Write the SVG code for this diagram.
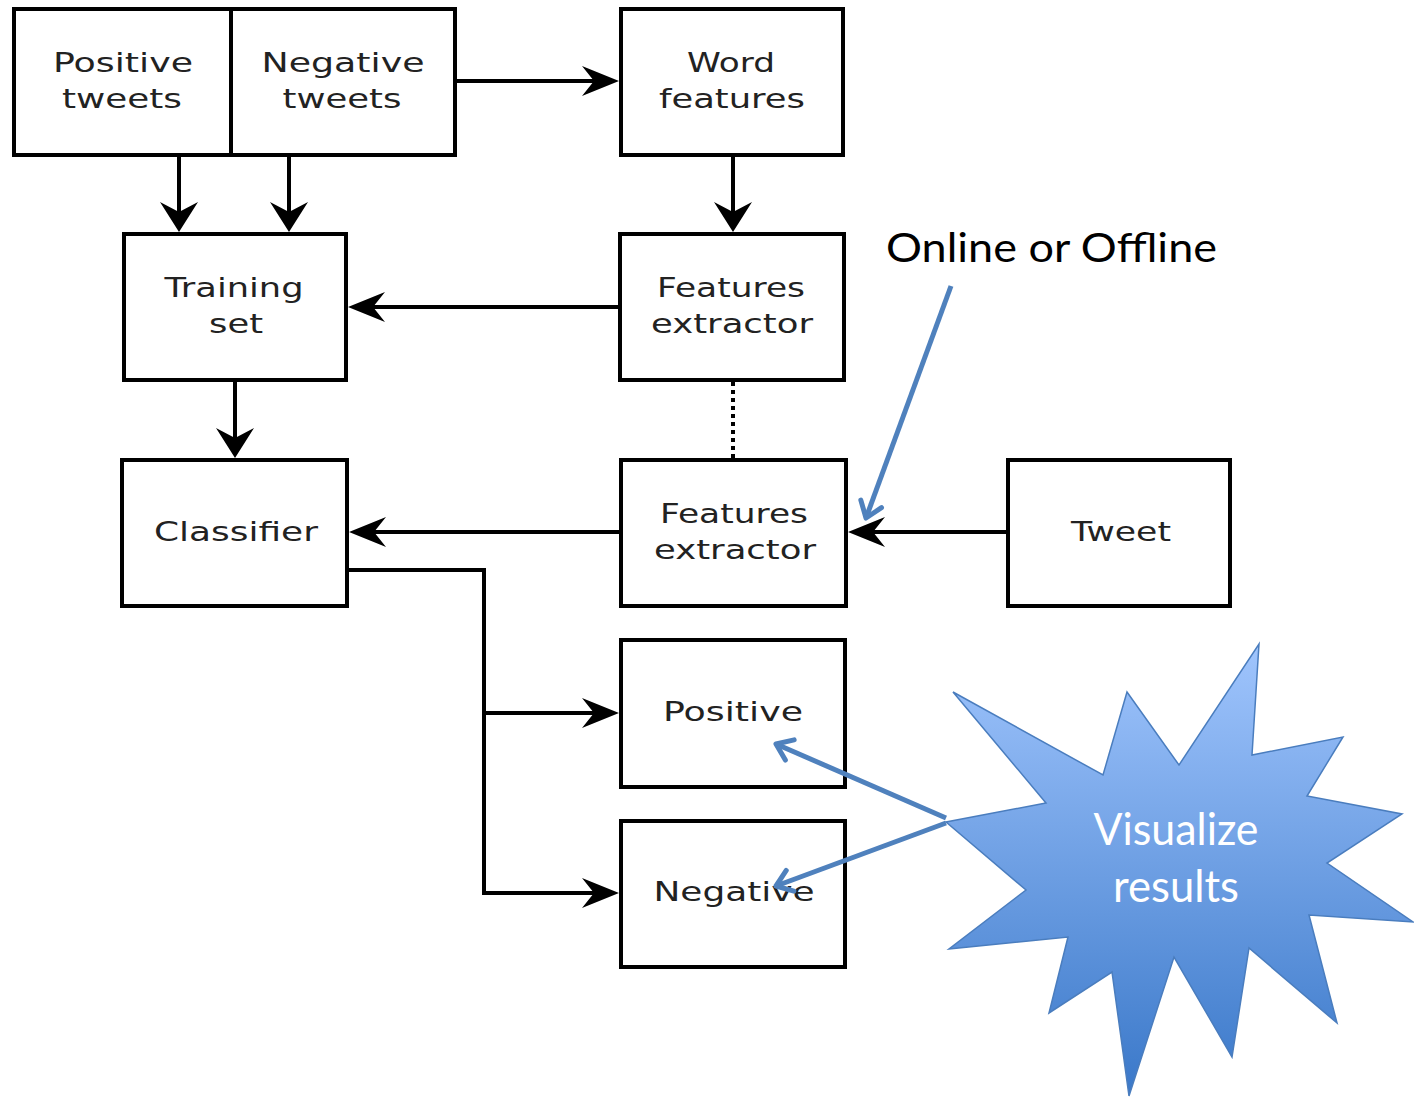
<svg xmlns="http://www.w3.org/2000/svg" width="1414" height="1098" viewBox="0 0 1414 1098">
<style>
.box{fill:#fff;stroke:#000;stroke-width:4}
.lbl{font-family:"DejaVu Sans",sans-serif;font-size:27px;fill:#222;text-anchor:middle}
.conn{fill:none;stroke:#000;stroke-width:4}
.blue{fill:none;stroke:#4f81bd;stroke-width:5}
.callout{font-family:Lato,"Open Sans",sans-serif}
</style>
<defs>
<marker id="ah" markerUnits="userSpaceOnUse" orient="auto" refX="0" refY="0" markerWidth="60" markerHeight="60" overflow="visible">
<path d="M20,0 L-17,-15 L-5,0 L-17,15 Z" fill="#000"/>
</marker>
<marker id="av" markerUnits="userSpaceOnUse" orient="auto" refX="0" refY="0" markerWidth="60" markerHeight="60" overflow="visible">
<path d="M20,0 L-10,-19 L0,0 L-10,19 Z" fill="#000"/>
</marker>
<marker id="ab" markerUnits="userSpaceOnUse" orient="auto" refX="0" refY="0" markerWidth="60" markerHeight="60" overflow="visible">
<path d="M-15,-11 L0,0 L-15,11" fill="none" stroke="#4f81bd" stroke-width="5" stroke-linecap="round" stroke-linejoin="round"/>
</marker>
<linearGradient id="burst" x1="0" y1="0" x2="0" y2="1">
<stop offset="0" stop-color="#a0c5fd"/>
<stop offset="1" stop-color="#3a78c9"/>
</linearGradient>
</defs>

<g id="connectors">
<path class="conn" d="M455,81 H599" marker-end="url(#ah)"/>
<path class="conn" d="M179,157 V212" marker-end="url(#av)"/>
<path class="conn" d="M289,157 V212" marker-end="url(#av)"/>
<path class="conn" d="M733,157 V212" marker-end="url(#av)"/>
<path class="conn" d="M618,307 H368" marker-end="url(#ah)"/>
<path class="conn" d="M235,382 V438" marker-end="url(#av)"/>
<path class="conn" d="M733,382 V458" stroke-dasharray="4,4"/>
<path class="conn" d="M619,532 H369" marker-end="url(#ah)"/>
<path class="conn" d="M1006,532 H868" marker-end="url(#ah)"/>
<path class="conn" d="M349,570 H484 V893 H599" marker-end="url(#ah)"/>
<path class="conn" d="M484,713 H599" marker-end="url(#ah)"/>
</g>

<g id="positive-tweets">
<rect class="box" x="14" y="9" width="217" height="146"/>
<text class="lbl" x="123" y="72" textLength="140" lengthAdjust="spacingAndGlyphs">Positive</text>
<text class="lbl" x="122" y="108" textLength="120" lengthAdjust="spacingAndGlyphs">tweets</text>
</g>
<g id="negative-tweets">
<rect class="box" x="231" y="9" width="224" height="146"/>
<text class="lbl" x="343" y="72" textLength="163" lengthAdjust="spacingAndGlyphs">Negative</text>
<text class="lbl" x="342" y="108" textLength="119" lengthAdjust="spacingAndGlyphs">tweets</text>
</g>
<g id="word-features">
<rect class="box" x="621" y="9" width="222" height="146"/>
<text class="lbl" x="731" y="72" textLength="88" lengthAdjust="spacingAndGlyphs">Word</text>
<text class="lbl" x="732" y="108" textLength="146" lengthAdjust="spacingAndGlyphs">features</text>
</g>
<g id="training-set">
<rect class="box" x="124" y="234" width="222" height="146"/>
<text class="lbl" x="234" y="297" textLength="139" lengthAdjust="spacingAndGlyphs">Training</text>
<text class="lbl" x="236" y="333" textLength="54" lengthAdjust="spacingAndGlyphs">set</text>
</g>
<g id="features-extractor-1">
<rect class="box" x="620" y="234" width="224" height="146"/>
<text class="lbl" x="731" y="297" textLength="148" lengthAdjust="spacingAndGlyphs">Features</text>
<text class="lbl" x="732" y="333" textLength="162" lengthAdjust="spacingAndGlyphs">extractor</text>
</g>
<g id="classifier">
<rect class="box" x="122" y="460" width="225" height="146"/>
<text class="lbl" x="236" y="541" textLength="164" lengthAdjust="spacingAndGlyphs">Classifier</text>
</g>
<g id="features-extractor-2">
<rect class="box" x="621" y="460" width="225" height="146"/>
<text class="lbl" x="734" y="523" textLength="148" lengthAdjust="spacingAndGlyphs">Features</text>
<text class="lbl" x="735" y="559" textLength="162" lengthAdjust="spacingAndGlyphs">extractor</text>
</g>
<g id="tweet">
<rect class="box" x="1008" y="460" width="222" height="146"/>
<text class="lbl" x="1121" y="541" textLength="100" lengthAdjust="spacingAndGlyphs">Tweet</text>
</g>
<g id="positive">
<rect class="box" x="621" y="640" width="224" height="147"/>
<text class="lbl" x="733" y="721" textLength="140" lengthAdjust="spacingAndGlyphs">Positive</text>
</g>
<g id="negative">
<rect class="box" x="621" y="821" width="224" height="146"/>
<text class="lbl" x="734" y="901" textLength="161" lengthAdjust="spacingAndGlyphs">Negative</text>
</g>

<g id="online-offline">
<text class="callout" x="886" y="262" font-size="40" fill="#000" textLength="331" lengthAdjust="spacingAndGlyphs">Online or Offline</text>
<path class="blue" d="M951,286 L866,518" marker-end="url(#ab)"/>
</g>

<g id="visualize-results">
<polygon points="953,692 1103,775 1127,692 1179,765 1259,644 1252,755 1343,737 1307,796 1402,814 1327,863 1413,922 1309,915 1337,1023 1249,948 1232,1057 1174,957 1129,1096 1112,972 1049,1013 1068,937 949,949 1026,890 946,822 1046,803" fill="url(#burst)" stroke="#4a7dbe" stroke-width="1.5" stroke-linejoin="miter"/>
<text class="callout" x="1176" y="845" font-size="44" fill="#fff" text-anchor="middle" textLength="165" lengthAdjust="spacingAndGlyphs">Visualize</text>
<text class="callout" x="1176" y="902" font-size="44" fill="#fff" text-anchor="middle" textLength="126" lengthAdjust="spacingAndGlyphs">results</text>
<path class="blue" d="M946,818 L776,744" marker-end="url(#ab)"/>
<path class="blue" d="M946,823 L776,886" marker-end="url(#ab)"/>
</g>
</svg>
